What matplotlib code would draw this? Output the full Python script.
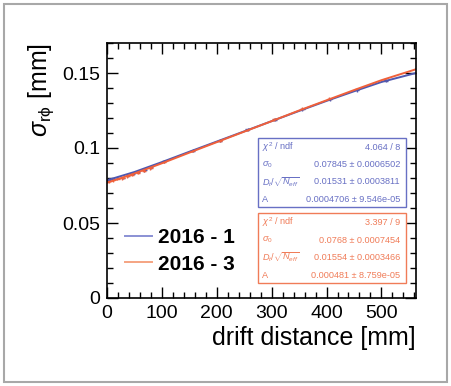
import matplotlib
matplotlib.use('Agg')
import matplotlib.pyplot as plt
from matplotlib.patches import Rectangle
from matplotlib.ticker import MultipleLocator

plt.rcParams['font.family'] = ['Liberation Sans', 'DejaVu Sans']
plt.rcParams['mathtext.fontset'] = 'custom'
plt.rcParams['mathtext.rm'] = 'Liberation Sans'
plt.rcParams['mathtext.it'] = 'Liberation Sans:italic'

# measured points (drift distance in mm, sigma in mm)
x_pts_1 = [4, 12, 20, 29, 38, 47, 57, 68, 80, 104, 156, 206, 256, 306, 356, 406, 456, 508]
y_pts_1 = [0.0790, 0.0796, 0.0801, 0.0800, 0.0818, 0.0826, 0.0840, 0.0852, 0.0872, 0.0912,
           0.0982, 0.1048, 0.1125, 0.1190, 0.1258, 0.1325, 0.1385, 0.1448]
x_pts_3 = [3, 11, 19, 28, 37, 46, 56, 67, 79, 103, 155, 205, 255, 305, 355, 405, 455, 507]
y_pts_3 = [0.0778, 0.0784, 0.0794, 0.0797, 0.0812, 0.0822, 0.0836, 0.0848, 0.0864, 0.0910,
           0.0980, 0.1046, 0.1120, 0.1192, 0.1262, 0.1330, 0.1394, 0.1455]

# fitted curves
x_fit = [0, 50, 100, 150, 200, 250, 300, 350, 400, 450, 500, 563]
y_fit_1 = [0.0785, 0.0840, 0.0906, 0.0975, 0.1043, 0.1111, 0.1179, 0.1247, 0.1314, 0.1378, 0.1440, 0.1500]
y_fit_3 = [0.0768, 0.0830, 0.0898, 0.0969, 0.1039, 0.1109, 0.1179, 0.1250, 0.1318, 0.1386, 0.1452, 0.1525]

labels = ['2016 - 1', '2016 - 3']
stat_names = [r'$\chi^{2}$ / ndf', r'$\sigma_{0}$', r'$D_{t}/\sqrt{N_{eff}}$', 'A']
stats_1 = ['4.064 / 8', '0.07845 ± 0.0006502', '0.01531 ± 0.0003811', '0.0004706 ± 9.546e-05']
stats_3 = ['3.397 / 9', '0.0768 ± 0.0007454', '0.01554 ± 0.0003466', '0.000481 ± 8.759e-05']

blue = '#4f58b0'
red = '#f0603a'
blue_box = '#6870c4'
red_box = '#f07c58'

W, H = 452, 386
fig = plt.figure(figsize=(W / 100, H / 100), dpi=100)
ax = fig.add_axes([107 / W, 1 - 298 / H, (416 - 107) / W, (298 - 43) / H])

ax.errorbar(x_pts_1, y_pts_1, xerr=4, yerr=0.0009, fmt='none', ecolor=blue, elinewidth=1.0)
ax.errorbar(x_pts_3, y_pts_3, xerr=4, yerr=0.0009, fmt='none', ecolor=red, elinewidth=1.0)
ax.plot(x_fit, y_fit_1, color=blue, lw=1.4, label=labels[0])
ax.plot(x_fit, y_fit_3, color=red, lw=1.4, label=labels[1])

ax.set_xlim(0, 563)
ax.set_ylim(0, 0.17)
ax.xaxis.set_major_locator(MultipleLocator(100))
ax.xaxis.set_minor_locator(MultipleLocator(20))
ax.yaxis.set_minor_locator(MultipleLocator(0.01))
ax.set_yticks([0, 0.05, 0.1, 0.15])
ax.set_yticklabels(['0', '0.05', '0.1', '0.15'])
ax.tick_params(which='both', direction='in', top=True, right=True, width=1.0, labelsize=14)
ax.tick_params(which='major', length=8, pad=5)
ax.tick_params(which='minor', length=4)
for s in ax.spines.values():
    s.set_linewidth(1.2)

ax.set_xlabel('drift distance [mm]', fontsize=18, loc='right', labelpad=3)
ax.set_ylabel(r'$\sigma_{\mathrm{r}\mathrm{\phi}}$ [mm]', fontsize=18, loc='top', labelpad=4)

leg = ax.legend(loc='center left', bbox_to_anchor=(125 / W, 1 - 251 / H),
                bbox_transform=fig.transFigure, frameon=False,
                prop={'weight': 'bold', 'size': 15}, handlelength=1.3,
                handletextpad=0.3, labelspacing=0.35, borderpad=0, borderaxespad=0)
leg.get_lines()[0].set_color('#8a90d4')
leg.get_lines()[1].set_color('#f5a482')

# stat boxes
def stat_box(top, bottom, names, values, color):
    fig.patches.append(Rectangle((258 / W, 1 - bottom / H), (406 - 258) / W, (bottom - top) / H,
                                 transform=fig.transFigure, facecolor='white',
                                 edgecolor=color, lw=1.0, zorder=5))
    step = (bottom - top) / 4
    for i, (n, v) in enumerate(zip(names, values)):
        yy = 1 - (top + step * (i + 0.55)) / H
        fig.text(262 / W, yy, n, color=color, fontsize=6.6, va='center', ha='left', zorder=6)
        fig.text(400 / W, yy, v, color=color, fontsize=6.6, va='center', ha='right', zorder=6)

stat_box(138, 207, stat_names, stats_1, blue_box)
stat_box(213, 283, stat_names, stats_3, red_box)

# outer frame
fig.patches.append(Rectangle((4 / W, 1 - 382 / H), (447 - 4) / W, (382 - 4) / H,
                             transform=fig.transFigure, fill=False,
                             edgecolor='#a8a8a8', lw=1.5))

fig.savefig('out.png', dpi=100)
